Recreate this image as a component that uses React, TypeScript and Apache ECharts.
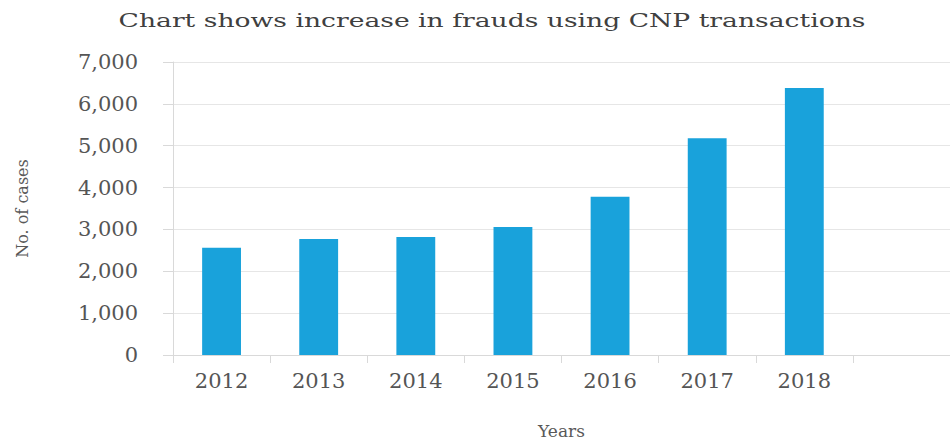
import React, { useEffect, useRef } from "react";
import * as echarts from "echarts";

const titleText = "Chart shows increase in frauds using CNP transactions";
const categories = ["2012", "2013", "2014", "2015", "2016", "2017", "2018", ""];
const cases = [2560, 2770, 2820, 3060, 3780, 5180, 6380, null];
const yTicks = { min: 0, max: 7000, interval: 1000 };
const xName = "Years";
const yName = "No. of cases";

export default function App() {
  const ref = useRef<HTMLDivElement>(null);
  useEffect(() => {
    document.body.style.margin = "0";
    const chart = echarts.init(ref.current!, null, { renderer: "svg" });
    const font = "DejaVu Serif";
    chart.setOption({
      animation: false,
      backgroundColor: "#ffffff",
      graphic: [
        {
          type: "text",
          x: 492,
          y: 20,
          scaleX: 1.4,
          style: {
            text: titleText,
            fontFamily: font,
            fontSize: 19,
            fill: "#404040",
            textAlign: "center",
            textVerticalAlign: "middle",
          },
        },
      ],
      grid: { left: 173, right: 0, top: 62, bottom: 89 },
      xAxis: {
        type: "category",
        data: categories,
        name: xName,
        nameLocation: "middle",
        nameGap: 67,
        nameTextStyle: { fontFamily: font, fontSize: 17, color: "#595959" },
        axisLine: { lineStyle: { color: "#d9d9d9" } },
        axisTick: { show: true, length: 8, lineStyle: { color: "#d9d9d9" } },
        axisLabel: { fontFamily: font, fontSize: 21, color: "#555555", margin: 15 },
      },
      yAxis: {
        type: "value",
        min: yTicks.min,
        max: yTicks.max,
        interval: yTicks.interval,
        name: yName,
        nameLocation: "middle",
        nameRotate: 90,
        nameGap: 143,
        nameTextStyle: { fontFamily: font, fontSize: 16, color: "#595959" },
        axisLine: { show: true, lineStyle: { color: "#d9d9d9" } },
        axisTick: { show: true, length: 10, lineStyle: { color: "#d9d9d9" } },
        splitLine: { lineStyle: { color: "#e6e6e6" } },
        axisLabel: {
          fontFamily: font,
          fontSize: 21,
          color: "#555555",
          margin: 35,
          formatter: (v: number) => v.toLocaleString("en-US"),
        },
      },
      series: [
        {
          type: "bar",
          data: cases,
          barWidth: "40%",
          itemStyle: { color: "#19a2db" },
        },
      ],
    });
    return () => chart.dispose();
  }, []);
  return <div ref={ref} style={{ width: 950, height: 444 }} />;
}
